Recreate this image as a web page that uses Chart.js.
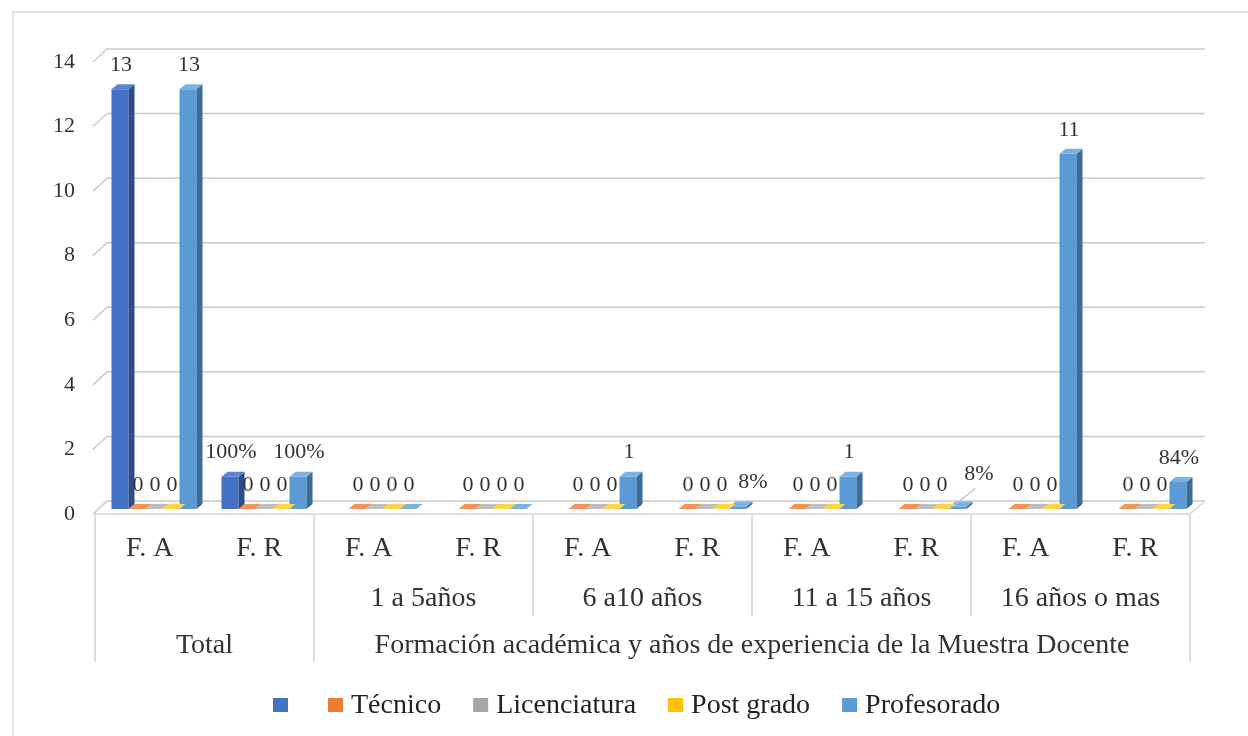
<!DOCTYPE html>
<html><head><meta charset="utf-8">
<script src="https://cdn.jsdelivr.net/npm/chart.js@4.4.0/dist/chart.umd.min.js"></script>
<style>html,body{margin:0;padding:0;background:#fff;} canvas{display:block;}</style>
</head><body>
<canvas id="c" width="1248" height="736"></canvas>
<script>
// ---- data ----
const categories = ["F. A","F. R","F. A","F. R","F. A","F. R","F. A","F. R","F. A","F. R"];
const groupLabels = ["1 a 5años","6 a10 años","11 a 15 años","16 años o mas"];
const topGroupLabels = ["Total","Formación académica y años de experiencia de la Muestra Docente"];
const seriesNames = ["", "Técnico", "Licenciatura", "Post grado", "Profesorado"];
const serie0       = [13, 1, null, null, null, null, null, null, null, null];
const tecnico      = [0, 0, 0, 0, 0, 0, 0, 0, 0, 0];
const licenciatura = [0, 0, 0, 0, 0, 0, 0, 0, 0, 0];
const postGrado    = [0, 0, 0, 0, 0, 0, 0, 0, 0, 0];
const profesorado  = [13, 1, 0, 0, 1, 0.08, 1, 0.08, 11, 0.84];
const yTicks = [0, 2, 4, 6, 8, 10, 12, 14];

// ---- styles ----
const FONT = '"Liberation Serif", "Times New Roman", serif';
const TXT = '#333333';
const frontC = ['#4472C4','#ED7D31','#A5A5A5','#FFC000','#5B9BD5'];
const sideC  = ['#2c4d8c','#b05a1e','#777777','#c09000','#3b6c9c'];
const topC   = ['#5b85d0','#f29458','#bebebe','#ffd24a','#7cb1e0'];
const DX = 6, DY = 5;

function fmt(v, i) {
  if (v === 0) return '0';
  if (i % 2 === 1) return Math.round(v * 100) + '%';
  return String(v);
}

const allSeries = [serie0, tecnico, licenciatura, postGrado, profesorado];

const borderPlugin = {
  id: 'frame',
  beforeDraw(chart) {
    const ctx = chart.ctx;
    ctx.save();
    ctx.fillStyle = '#fff';
    ctx.fillRect(0, 0, chart.width, chart.height);
    ctx.strokeStyle = '#dfe3e8';
    ctx.lineWidth = 2;
    ctx.strokeRect(13, 12, 1400, 900);
    ctx.restore();
  }
};

const gridPlugin = {
  id: 'grid3d',
  beforeDatasetsDraw(chart) {
    const ctx = chart.ctx, y = chart.scales.y, a = chart.chartArea;
    ctx.save();
    ctx.strokeStyle = '#cacaca';
    ctx.lineWidth = 1.5;
    yTicks.forEach(v => {
      const p = y.getPixelForValue(v);
      ctx.beginPath();
      ctx.moveTo(a.left - 6, p + 5);
      ctx.lineTo(a.left + 8, p - 8);
      ctx.lineTo(a.right + 6, p - 8);
      ctx.stroke();
    });
    // floor
    const p0 = y.getPixelForValue(0);
    ctx.strokeStyle = '#d6d6d6';
    ctx.beginPath();
    ctx.moveTo(a.left - 4, p0 + 5);
    ctx.lineTo(a.right - 9, p0 + 5);
    ctx.lineTo(a.right + 6, p0 - 8);
    ctx.stroke();
    ctx.restore();
  }
};

const bar3dPlugin = {
  id: 'bar3d',
  afterDatasetDraw(chart, args) {
    const ctx = chart.ctx, i = args.index, meta = args.meta;
    ctx.save();
    meta.data.forEach((bar, k) => {
      const v = chart.data.datasets[i].data[k];
      if (v === null || v === undefined) return;
      const {x, y, base, width} = bar.getProps(['x','y','base','width'], true);
      const l = x - width / 2, r = x + width / 2;
      ctx.fillStyle = sideC[i];
      ctx.beginPath();
      ctx.moveTo(r, y); ctx.lineTo(r + DX, y - DY); ctx.lineTo(r + DX, base - DY); ctx.lineTo(r, base);
      ctx.closePath(); ctx.fill();
      ctx.fillStyle = topC[i];
      ctx.beginPath();
      ctx.moveTo(l, y); ctx.lineTo(l + DX, y - DY); ctx.lineTo(r + DX, y - DY); ctx.lineTo(r, y);
      ctx.closePath(); ctx.fill();
    });
    ctx.restore();
  }
};

const labelPlugin = {
  id: 'vlabels',
  afterDatasetsDraw(chart) {
    const ctx = chart.ctx;
    ctx.save();
    ctx.font = '22px ' + FONT;
    ctx.fillStyle = TXT;
    ctx.textAlign = 'center';
    ctx.textBaseline = 'middle';
    chart.data.datasets.forEach((ds, i) => {
      const meta = chart.getDatasetMeta(i);
      meta.data.forEach((bar, k) => {
        const v = ds.data[k];
        if (v === null || v === undefined) return;
        let lx = bar.x + 1, ly = bar.y - 24;
        if (i === 4 && k === 5) { lx += 14; }
        if (i === 4 && k === 7) {
          lx += 20; ly -= 8;
          ctx.save();
          ctx.strokeStyle = '#a9c3dd'; ctx.lineWidth = 1.2;
          ctx.beginPath(); ctx.moveTo(bar.x - 4, bar.y - 1); ctx.lineTo(lx - 4, ly + 14); ctx.stroke();
          ctx.restore();
        }
        ctx.fillText(fmt(v, k), lx, ly);
      });
    });
    ctx.restore();
  }
};

const axisPlugin = {
  id: 'multiAxis',
  afterDraw(chart) {
    const ctx = chart.ctx, xs = chart.scales.x, a = chart.chartArea;
    const f = px => 95 + (px - a.left) * 1095 / (a.right - a.left);
    const bound = b => f(a.left + (a.right - a.left) * b / categories.length);
    ctx.save();
    // dividers
    ctx.strokeStyle = '#d9dde4';
    ctx.lineWidth = 2;
    [[0, 662], [2, 662], [4, 616], [6, 616], [8, 616], [10, 662]].forEach(([b, yb]) => {
      const x = bound(b);
      ctx.beginPath(); ctx.moveTo(x, 514); ctx.lineTo(x, yb); ctx.stroke();
    });
    ctx.fillStyle = TXT;
    ctx.textAlign = 'center';
    ctx.textBaseline = 'alphabetic';
    ctx.font = '28px ' + FONT;
    categories.forEach((c, i) => {
      ctx.fillText(c, f(xs.getPixelForValue(i)), 556);
    });
    groupLabels.forEach((g, j) => {
      const x = (bound(2 + 2 * j) + bound(4 + 2 * j)) / 2;
      ctx.fillText(g, x, 606);
    });
    ctx.fillText(topGroupLabels[0], (bound(0) + bound(2)) / 2, 653);
    ctx.fillText(topGroupLabels[1], (bound(2) + bound(10)) / 2, 653);
    // legend
    ctx.font = '28px ' + FONT;
    ctx.textAlign = 'left';
    let lx = 273;
    seriesNames.forEach((n, i) => {
      ctx.fillStyle = frontC[i];
      ctx.fillRect(lx, 698, 15, 14);
      lx += 15 + 8;
      ctx.fillStyle = '#222';
      ctx.fillText(n, lx, 713);
      lx += ctx.measureText(n).width + 32;
    });
    ctx.restore();
  }
};

new Chart(document.getElementById('c'), {
  type: 'bar',
  data: {
    labels: categories,
    datasets: allSeries.map((d, i) => ({
      label: seriesNames[i],
      data: d,
      backgroundColor: frontC[i],
      borderWidth: 0,
      categoryPercentage: 0.773,
      barPercentage: 1.0
    }))
  },
  options: {
    responsive: false,
    animation: false,
    events: [],
    layout: { padding: { left: 0, top: 57, right: 49, bottom: 227 } },
    plugins: { legend: { display: false }, tooltip: { enabled: false } },
    scales: {
      x: {
        ticks: { display: false },
        grid: { display: false, drawTicks: false },
        border: { display: false },
        afterFit(s) { s.height = 0; }
      },
      y: {
        min: 0, max: 14,
        afterBuildTicks(s) { s.ticks = yTicks.map(v => ({ value: v })); },
        ticks: { font: { family: FONT, size: 22 }, color: TXT, padding: 24, labelOffset: 5 },
        grid: { display: false, drawTicks: false },
        border: { display: false },
        afterFit(s) { s.width = 99; }
      }
    }
  },
  plugins: [borderPlugin, gridPlugin, bar3dPlugin, labelPlugin, axisPlugin]
});
</script>
</body></html>
